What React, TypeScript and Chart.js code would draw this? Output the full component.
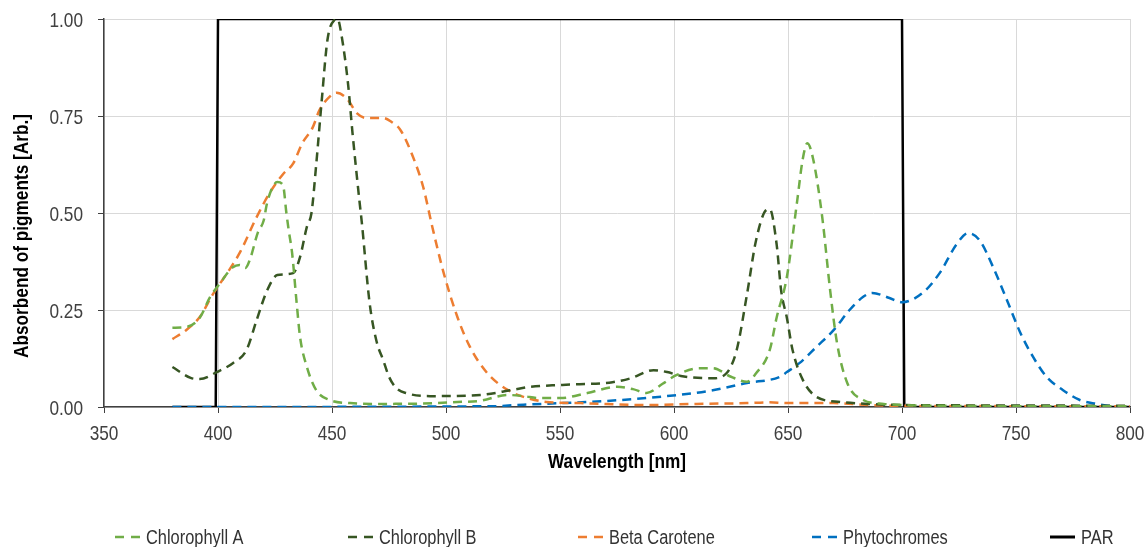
import React, { useEffect, useRef } from "react";
import { Chart, registerables } from "chart.js";

Chart.register(...registerables);

// ---------- data ----------
const chlAWl = [380, 386, 392, 396.5, 401, 406.5, 409.5, 412, 414, 417.5, 420, 421.5, 424, 426, 428.5, 430, 431, 432.5, 434.5, 436, 439, 443, 449, 458, 470, 490, 505, 515, 527, 534, 541, 550, 562, 575, 582, 588, 595, 601, 611, 617, 625, 632, 636, 642, 645, 649.5, 654, 656.5, 658.5, 661, 665, 668.5, 671.5, 676, 683, 692, 700, 720, 760, 800];
const chlAVal = [0.204, 0.206, 0.23, 0.283, 0.32, 0.36, 0.366, 0.358, 0.38, 0.45, 0.48, 0.525, 0.567, 0.58, 0.572, 0.5, 0.456, 0.397, 0.268, 0.18, 0.103, 0.044, 0.018, 0.01, 0.008, 0.009, 0.013, 0.016, 0.031, 0.028, 0.023, 0.023, 0.036, 0.052, 0.046, 0.036, 0.06, 0.082, 0.1, 0.1, 0.078, 0.065, 0.087, 0.147, 0.23, 0.335, 0.53, 0.64, 0.68, 0.64, 0.49, 0.3, 0.165, 0.062, 0.018, 0.008, 0.005, 0.003, 0.002, 0.002];

const chlBWl = [380, 388, 392, 399.5, 406.5, 412.5, 417, 421.5, 426, 433, 436, 439, 441, 443, 445.5, 448, 451, 452.5, 454, 457, 459, 462, 463, 466.5, 469.5, 472.5, 475, 478, 483, 493, 515, 529, 537, 551, 573, 581, 591, 597, 603, 617, 623, 627.5, 632, 636, 640.5, 642, 645, 647, 649.5, 652, 656.5, 662.5, 673, 685, 700, 750, 800];
const chlBVal = [0.103, 0.075, 0.072, 0.09, 0.113, 0.147, 0.225, 0.3, 0.34, 0.345, 0.387, 0.465, 0.5, 0.62, 0.79, 0.946, 0.997, 1.0, 0.964, 0.835, 0.706, 0.533, 0.48, 0.268, 0.17, 0.12, 0.078, 0.05, 0.035, 0.028, 0.031, 0.044, 0.052, 0.057, 0.064, 0.074, 0.095, 0.09, 0.08, 0.074, 0.087, 0.147, 0.29, 0.43, 0.508, 0.51, 0.42, 0.3, 0.23, 0.147, 0.07, 0.026, 0.013, 0.008, 0.005, 0.004, 0.003];

const betaWl = [380, 386, 392, 398, 404, 409.5, 417, 423, 428.5, 433, 437, 441.5, 444.5, 449, 452, 456.5, 461, 465, 472.5, 476, 480, 485.5, 490, 494, 499, 505, 510.5, 518, 527, 534, 544, 559, 588, 610, 632, 641, 650, 670, 685, 700, 800];
const betaVal = [0.175, 0.198, 0.232, 0.293, 0.345, 0.397, 0.49, 0.555, 0.6, 0.628, 0.68, 0.72, 0.765, 0.8, 0.81, 0.795, 0.757, 0.745, 0.745, 0.735, 0.714, 0.645, 0.567, 0.464, 0.345, 0.232, 0.155, 0.088, 0.044, 0.026, 0.013, 0.01, 0.005, 0.008, 0.01, 0.012, 0.01, 0.01, 0.005, 0.003, 0.002];

const phytoWl = [380, 520, 534, 550, 566, 595, 617, 632, 646.5, 649.5, 655, 662.5, 670, 677, 683, 687, 694.5, 700, 709, 716.5, 724, 729, 734, 740, 746, 752, 757.5, 763.5, 770.5, 778, 785.5, 792, 800];
const phytoVal = [0, 0.002, 0.006, 0.01, 0.014, 0.027, 0.043, 0.062, 0.078, 0.09, 0.113, 0.155, 0.198, 0.25, 0.284, 0.294, 0.281, 0.27, 0.294, 0.345, 0.42, 0.448, 0.43, 0.36, 0.276, 0.19, 0.129, 0.077, 0.044, 0.018, 0.008, 0.002, 0];

const parWl = [380, 399, 400, 700, 701, 800];
const parVal = [0, 0, 1, 1, 0, 0];

const seriesNames = ["Chlorophyll A", "Chlorophyll B", "Beta Carotene", "Phytochromes", "PAR"];
const seriesColors = ["#70AD47", "#375623", "#ED7D31", "#0070C0", "#000000"];

const xTitle = "Wavelength [nm]";
const yTitle = "Absorbend of pigments [Arb.]";

// Arial-metric font, horizontally compressed to mimic Arial Narrow
const FONT = "'Liberation Sans', Arial, sans-serif";
const NARROW = 0.82;
const LEGEND_X = [115, 348, 578, 812, 1050];

const toPoints = (xs: number[], ys: number[]) => xs.map((x, i) => ({ x, y: ys[i] }));

function narrowText(
  ctx: CanvasRenderingContext2D,
  text: string,
  x: number,
  y: number,
  align: CanvasTextAlign,
  font: string,
  color: string,
  rotate = 0
) {
  ctx.save();
  ctx.translate(x, y);
  if (rotate) ctx.rotate(rotate);
  ctx.scale(NARROW, 1);
  ctx.font = font;
  ctx.fillStyle = color;
  ctx.textAlign = align;
  ctx.textBaseline = "alphabetic";
  ctx.fillText(text, 0, 0);
  ctx.restore();
}

const overlayPlugin = {
  id: "overlay",
  afterDraw(chart: any) {
    const ctx = chart.ctx as CanvasRenderingContext2D;
    const area = chart.chartArea;
    const xs = chart.scales.x;
    const ys = chart.scales.y;
    const tickFont = `21px ${FONT}`;
    const titleFont = `bold 21px ${FONT}`;

    // tick labels
    xs.ticks.forEach((t: any) => {
      narrowText(ctx, String(t.value), xs.getPixelForValue(t.value), 440, "center", tickFont, "#404040");
    });
    ys.ticks.forEach((t: any) => {
      narrowText(ctx, Number(t.value).toFixed(2), 83, ys.getPixelForValue(t.value) + 7.5, "right", tickFont, "#404040");
    });

    // axis titles
    narrowText(ctx, xTitle, (area.left + area.right) / 2, 468, "center", titleFont, "#000");
    narrowText(ctx, yTitle, 28, 236, "center", titleFont, "#000", -Math.PI / 2);

    // legend
    const y = 537;
    chart.data.datasets.forEach((ds: any, i: number) => {
      const x0 = LEGEND_X[i];
      const isDashed = ds.borderDash && ds.borderDash.length;
      ctx.save();
      ctx.strokeStyle = ds.borderColor;
      ctx.lineWidth = isDashed ? 2.5 : 3;
      ctx.setLineDash(isDashed ? [9, 7] : []);
      ctx.beginPath();
      ctx.moveTo(x0, y);
      ctx.lineTo(x0 + 25, y);
      ctx.stroke();
      ctx.restore();
      narrowText(ctx, ds.label, x0 + 31, y + 7, "left", `20px ${FONT}`, "#333");
    });
  },
};

export default function App() {
  const ref = useRef<HTMLCanvasElement | null>(null);
  useEffect(() => {
    if (!ref.current) return;
    const dashed = (i: number, xs: number[], ys: number[]) => ({
      label: seriesNames[i],
      data: toPoints(xs, ys),
      borderColor: seriesColors[i],
      backgroundColor: seriesColors[i],
      borderWidth: 2.5,
      borderDash: [9, 6],
      pointRadius: 0,
      cubicInterpolationMode: "monotone" as const,
      fill: false,
    });
    const chart = new Chart(ref.current, {
      type: "line",
      data: {
        datasets: [
          dashed(0, chlAWl, chlAVal),
          dashed(1, chlBWl, chlBVal),
          dashed(2, betaWl, betaVal),
          dashed(3, phytoWl, phytoVal),
          {
            label: seriesNames[4],
            data: toPoints(parWl, parVal),
            borderColor: seriesColors[4],
            backgroundColor: seriesColors[4],
            borderWidth: 2.5,
            pointRadius: 0,
            tension: 0,
            fill: false,
          } as any,
        ],
      },
      options: {
        responsive: false,
        animation: false,
        layout: { padding: { top: 19, right: 17, left: 0, bottom: 0 } },
        plugins: { legend: { display: false }, tooltip: { enabled: false } },
        scales: {
          x: {
            type: "linear",
            min: 350,
            max: 800,
            afterFit: (s: any) => {
              s.height = 140;
            },
            ticks: { stepSize: 50, display: false },
            grid: { color: "#D9D9D9", tickColor: "#404040", tickLength: 6, lineWidth: 1 },
            border: { color: "#404040", width: 1.5 },
          },
          y: {
            min: 0,
            max: 1,
            afterFit: (s: any) => {
              s.width = 104;
            },
            ticks: { stepSize: 0.25, display: false },
            grid: { color: "#D9D9D9", tickColor: "#404040", tickLength: 6, lineWidth: 1 },
            border: { color: "#404040", width: 1.5 },
          },
        },
      },
      plugins: [overlayPlugin],
    });
    return () => chart.destroy();
  }, []);
  return (
    <div style={{ position: "fixed", left: 0, top: 0, width: 1147, height: 547, background: "#fff" }}>
      <canvas ref={ref} width={1147} height={547} />
    </div>
  );
}
